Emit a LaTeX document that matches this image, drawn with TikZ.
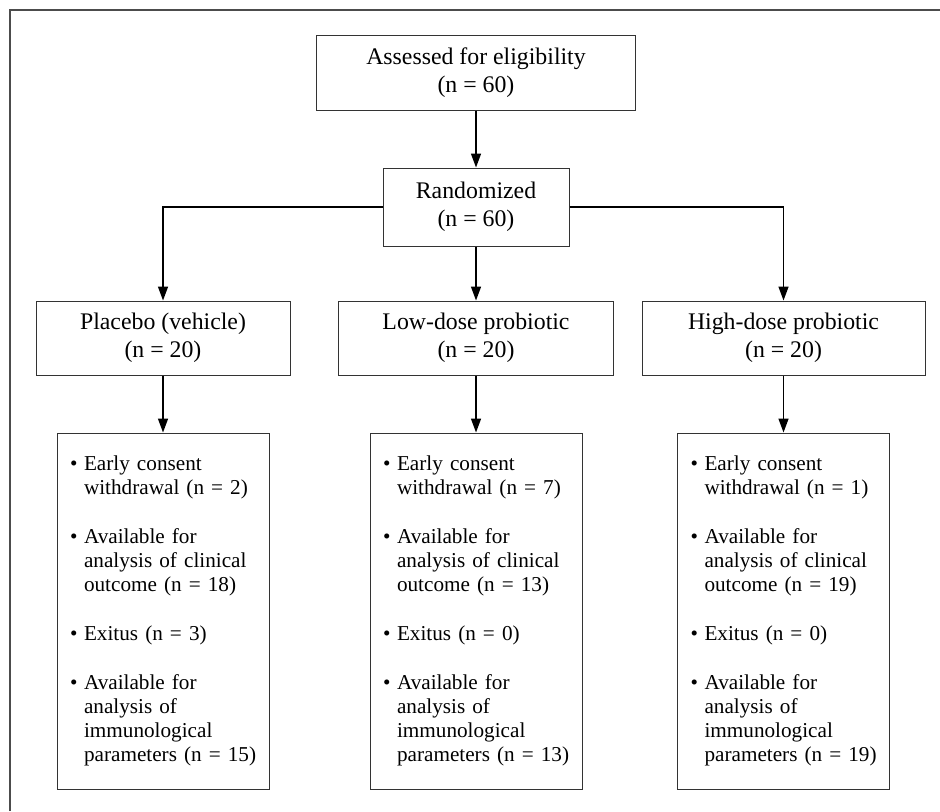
\documentclass[tikz,border=0pt]{standalone}
\usepackage{fontspec}
\setmainfont{Liberation Serif}
\usetikzlibrary{arrows.meta}

\newcommand{\armlist}[4]{%
\begin{tabular}{@{}l@{\hspace{3.3pt}}l@{}}
\textbullet & Early consent\\
 & withdrawal (n = #1)\\[12.5pt]
\textbullet & Available for\\
 & analysis of clinical\\
 & outcome (n = #2)\\[12.5pt]
\textbullet & Exitus (n = #3)\\[12.5pt]
\textbullet & Available for\\
 & analysis of\\
 & immunological\\
 & parameters (n = #4)
\end{tabular}}

\begin{document}
\begin{tikzpicture}[x=0.5pt, y=-0.5pt,
  topbox/.style={draw=black!80, line width=0.5pt, align=center, inner sep=0pt,
    minimum height=37pt, font=\fontsize{11.9}{14}\selectfont},
  listbox/.style={draw=black!80, line width=0.5pt, inner xsep=6.5pt, inner ysep=0pt,
    text width=93pt, minimum height=178pt, align=left,
    font=\fontsize{10.6}{12}\selectfont},
  flow/.style={line width=0.75pt, -{Triangle[width=5pt,length=7pt]}}]

\useasboundingbox (0,0) rectangle (940,811);
\draw[black!70, line width=1pt] (10,811) -- (10,10) -- (940,10);

\node[topbox, minimum width=159.5pt, minimum height=37.5pt] (assess) at (476,72.5)
  {Assessed for eligibility\\(n = 60)};
\node[topbox, minimum width=93pt, minimum height=39pt] (rand) at (476,207)
  {Randomized\\(n = 60)};

\node[topbox, minimum width=127pt] (placebo) at (163,338)
  {Placebo (vehicle)\\(n = 20)};
\node[topbox, minimum width=137.5pt] (low) at (476,338)
  {Low-dose probiotic\\(n = 20)};
\node[topbox, minimum width=141.5pt] (high) at (783.5,338)
  {High-dose probiotic\\(n = 20)};

\node[listbox] (placebolist) at (163,611) {\armlist{2}{18}{3}{15}};
\node[listbox] (lowlist) at (476,611) {\armlist{7}{13}{0}{13}};
\node[listbox] (highlist) at (783.5,611) {\armlist{1}{19}{0}{19}};

\draw[flow] (assess) -- (rand);
\draw[flow] (rand.west) -| (placebo);
\draw[flow] (rand) -- (low);
\draw[flow] (rand.east) -| (high);
\draw[flow] (placebo) -- (placebolist);
\draw[flow] (low) -- (lowlist);
\draw[flow] (high) -- (highlist);
\end{tikzpicture}
\end{document}
